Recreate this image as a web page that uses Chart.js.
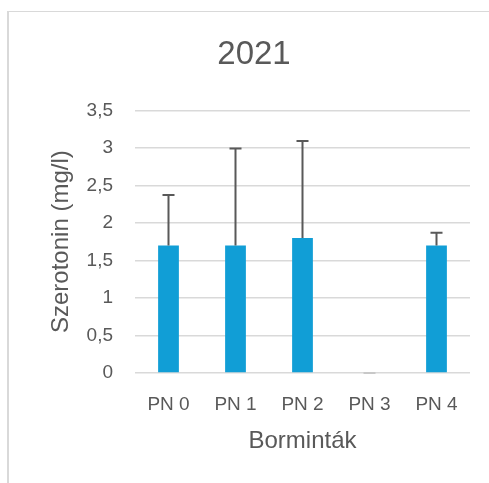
<!DOCTYPE html>
<html>
<head>
<meta charset="utf-8">
<script src="https://cdn.jsdelivr.net/npm/chart.js@4.4.1/dist/chart.umd.min.js"></script>
<style>
  html, body { margin: 0; padding: 0; background: #fff; }
  #wrap { position: relative; width: 489px; height: 483px; }
  #frame { position: absolute; left: 7px; top: 11px; right: 0; bottom: 0;
           border-left: 2px solid #d9d9d9; border-top: 1px solid #d9d9d9; }
  canvas { position: absolute; left: 0; top: 0; }
</style>
</head>
<body>
<div id="wrap">
  <div id="frame"></div>
  <canvas id="myChart" width="489" height="483"></canvas>
</div>
<script>
const categories = ['PN 0', 'PN 1', 'PN 2', 'PN 3', 'PN 4'];
const serotonin = [1.7, 1.7, 1.8, 0, 1.7];
const errorUp = [0.67, 1.29, 1.29, 0, 0.17];

const textColor = '#595959';
const fontFamily = '"Liberation Sans", Arial, sans-serif';

// upper error bars, placed through the chart's own scales
const errorBars = {
    id: 'errorBars',
    afterDatasetsDraw(chart) {
        const ctx = chart.ctx;
        const x = chart.scales.x;
        const y = chart.scales.y;
        ctx.save();
        ctx.lineWidth = 2;
        serotonin.forEach((v, i) => {
            const px = x.getPixelForValue(i);
            const y0 = y.getPixelForValue(v);
            const y1 = y.getPixelForValue(v + errorUp[i]);
            // zero-length bars only leave a faint cap on the axis
            ctx.strokeStyle = errorUp[i] > 0 ? textColor : '#c8c8c8';
            ctx.beginPath();
            ctx.moveTo(px, y0);
            ctx.lineTo(px, y1);
            ctx.moveTo(px - 6, y1);
            ctx.lineTo(px + 6, y1);
            ctx.stroke();
        });
        ctx.restore();
    },
};

var ctx = document.getElementById('myChart').getContext('2d');

let myChart = new Chart(ctx, {
    type: 'bar',
    data: {
        labels: categories,
        datasets: [
            {
                label: 'Szerotonin',
                data: serotonin,
                backgroundColor: '#119ed6',
                borderWidth: 0,
                categoryPercentage: 1,
                barPercentage: 0.31,
            },
        ],
    },
    options: {
        responsive: false,
        animation: false,
        layout: { padding: { left: 38, right: 19, top: 0, bottom: 0 } },
        plugins: {
            legend: { display: false },
            tooltip: { enabled: false },
            title: {
                display: true,
                text: '2021',
                color: textColor,
                font: { family: fontFamily, size: 33, weight: 'normal' },
                padding: { top: 35, bottom: 35.7 },
            },
        },
        scales: {
            x: {
                grid: { display: false, drawTicks: false },
                border: { display: false },
                ticks: { color: textColor, padding: 20.6, font: { family: fontFamily, size: 19 } },
                title: {
                    display: true,
                    text: 'Borminták',
                    color: textColor,
                    font: { family: fontFamily, size: 24 },
                    padding: { top: 0, bottom: 27.6 },
                },
                afterFit(scale) { scale.height = 110; },
            },
            y: {
                min: 0,
                max: 3.5,
                grid: { color: '#d9d9d9', lineWidth: 1.5, drawTicks: false },
                border: { display: false },
                ticks: {
                    stepSize: 0.5,
                    color: textColor,
                    padding: 22,
                    font: { family: fontFamily, size: 19 },
                    callback: (v) => String(v).replace('.', ','),
                },
                title: {
                    display: true,
                    text: 'Szerotonin (mg/l)',
                    color: textColor,
                    font: { family: fontFamily, size: 24 },
                    padding: { top: 9, bottom: 0 },
                },
                afterFit(scale) { scale.width = 97; },
            },
        },
    },
    plugins: [errorBars],
});
</script>
</body>
</html>
